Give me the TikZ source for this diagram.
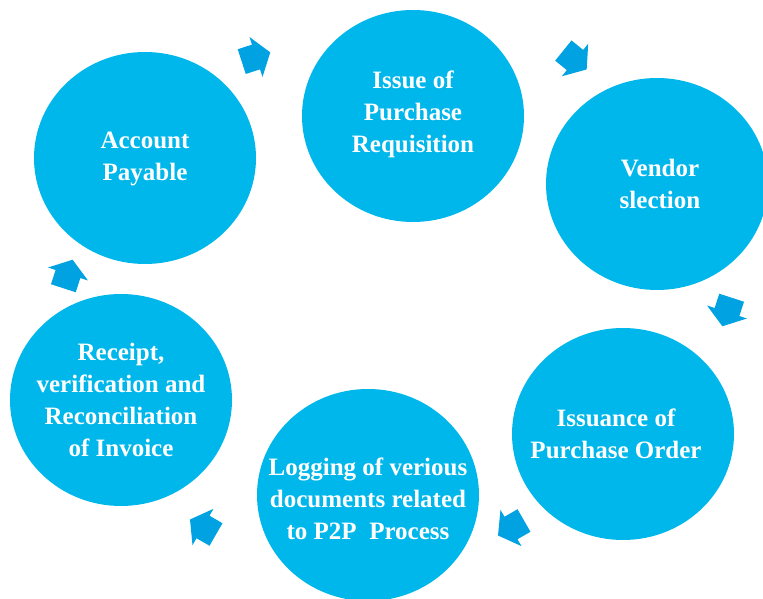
\documentclass[tikz,border=0pt]{standalone}
\usepackage{fontspec}
\setmainfont{Liberation Serif}
\usetikzlibrary{shapes.geometric}
\definecolor{circfill}{RGB}{0,183,235}
\definecolor{arrfill}{RGB}{0,162,226}
\tikzset{
  stage/.style={ellipse, fill=circfill, minimum width=222pt, minimum height=212pt,
    inner sep=0pt},
  stagetext/.style={text=white, align=center, inner sep=0pt,
    font=\fontsize{25}{32}\selectfont\bfseries},
  blockarrow/.pic={\fill[arrfill] (-15,-13) -- (0,-13) -- (0,-21) -- (15,0) -- (0,21) -- (0,13) -- (-15,13) -- cycle;}
}
\begin{document}
\begin{tikzpicture}[x=1pt,y=1pt]
\useasboundingbox (0,0) rectangle (763,599);
\node[stage] (ap) at (145,441) {};
\node[stage] (pr) at (413,483) {};
\node[stage] (vs) at (657,415) {};
\node[stage] (po) at (623,165) {};
\node[stage] (lg) at (368,104) {};
\node[stage] (rc) at (121,199) {};
\node[stagetext] (tap) at ([yshift=-1pt]ap.center) {Account\\Payable};
\node[stagetext] (tpr) at ([yshift=2pt]pr.center) {Issue of\\Purchase\\Requisition};
\node[stagetext] (tvs) at ([xshift=3pt]vs.center) {Vendor\\slection};
\node[stagetext] (tpo) at ([xshift=-7pt]po.center) {Issuance of\\Purchase Order};
\node[stagetext] (tlg) at ([yshift=-4pt]lg.center) {Logging of verious\\documents related\\to P2P~ Process};
\node[stagetext] (trc) at (rc.center) {Receipt,\\verification and\\Reconciliation\\of Invoice};
\pic[rotate=18] (a1) at (256,542) {blockarrow};
\pic[rotate=-39] (a2) at (575,539) {blockarrow};
\pic[rotate=-108] (a3) at (727,287) {blockarrow};
\pic[rotate=210] (a4) at (511,71) {blockarrow};
\pic[rotate=150] (a5) at (203,72) {blockarrow};
\pic[rotate=72] (a6) at (68,325) {blockarrow};
\end{tikzpicture}
\end{document}
